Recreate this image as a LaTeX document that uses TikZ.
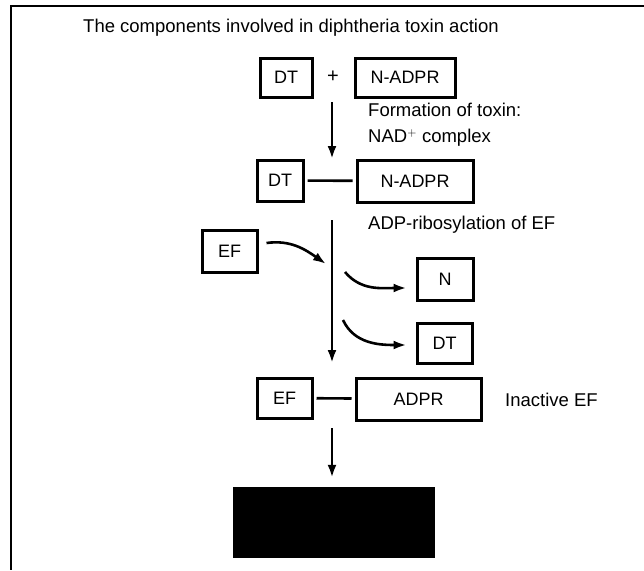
\documentclass[tikz,border=0pt]{standalone}
\usepackage{fontspec}
\setmainfont{Liberation Sans}
\usetikzlibrary{arrows.meta}
\tikzset{
  box/.style={draw, line width=3pt, inner sep=0pt, font=\fontsize{18}{20}\selectfont},
  lbl/.style={inner sep=0pt, anchor=west, font=\fontsize{18.5}{20}\selectfont},
  flow/.style={line width=2.6pt, -{Latex[length=13pt,width=9pt]}},
  link/.style={line width=2.6pt, shorten <=3pt, shorten >=3pt}
}
\begin{document}
\begin{tikzpicture}[x=1pt, y=-1pt]
            \useasboundingbox (0,0) rectangle (644,570);
            % frame
            \draw[line width=2.8pt] (644,6) -- (11,6) -- (11,570);
            \node[lbl] (title) at (83,28) {The components involved in diphtheria toxin action};
            % reactants
            \node[box, minimum width=52pt, minimum height=39pt] (dtA) at (286,77.5) {DT};
            \node[inner sep=0pt, font=\fontsize{20}{20}\selectfont] (plus) at (333,77) {+};
            \node[box, minimum width=100pt, minimum height=39pt] (nadprA) at (405,77.5) {N-ADPR};
            \coordinate (s1) at (332,102);
            \coordinate (e1) at (332,159);
            \draw[flow] (s1) -- (e1);
            \node[lbl] (form) at (368,110) {Formation of toxin:};
            \node[lbl] (nad) at (368,138) {NAD$^{+}$ complex};
            % toxin complex
            \node[box, minimum width=46pt, minimum height=41pt] (dtB) at (280,180.5) {DT};
            \node[box, minimum width=116pt, minimum height=42pt] (nadprB) at (415,181) {N-ADPR};
            \draw[link] (dtB) -- (nadprB);
            % ribosylation
            \node[lbl] (ribo) at (368,225) {ADP-ribosylation of EF};
            \coordinate (s2) at (332,220);
            \coordinate (e2) at (332,363);
            \draw[flow] (s2) -- (e2);
            \node[box, minimum width=55pt, minimum height=42pt] (efA) at (229.5,251) {EF};
            \coordinate (c1) at (326,264);
            \draw[flow] ([xshift=8pt,yshift=8pt]efA.east) to[out=8,in=145] (c1);
            \node[box, minimum width=56pt, minimum height=42pt] (nB) at (445,279) {N};
            \coordinate (c2) at (345,272);
            \draw[flow] (c2) to[out=-50,in=180] ([xshift=-9pt,yshift=-9pt]nB.west);
            \node[box, minimum width=55pt, minimum height=40pt] (dtC) at (444.5,343) {DT};
            \coordinate (c3) at (343,320);
            \draw[flow] (c3) to[out=-65,in=180] ([xshift=-9pt,yshift=-2pt]dtC.west);
            % inactive EF
            \node[box, minimum width=55pt, minimum height=40pt] (efB) at (284.5,398) {EF};
            \node[box, minimum width=125pt, minimum height=42pt] (adpr) at (418.5,399) {ADPR};
            \draw[link] (efB) -- (adpr);
            \node[lbl] (inact) at (505,400) {Inactive EF};
            \node[fill=black, minimum width=202pt, minimum height=71pt, inner sep=0pt] (block) at (334,522.5) {};
            \coordinate (s3) at (332,428);
            \draw[flow] (s3) -- (s3 |- block.north) [shorten >=9pt];
\end{tikzpicture}
\end{document}
